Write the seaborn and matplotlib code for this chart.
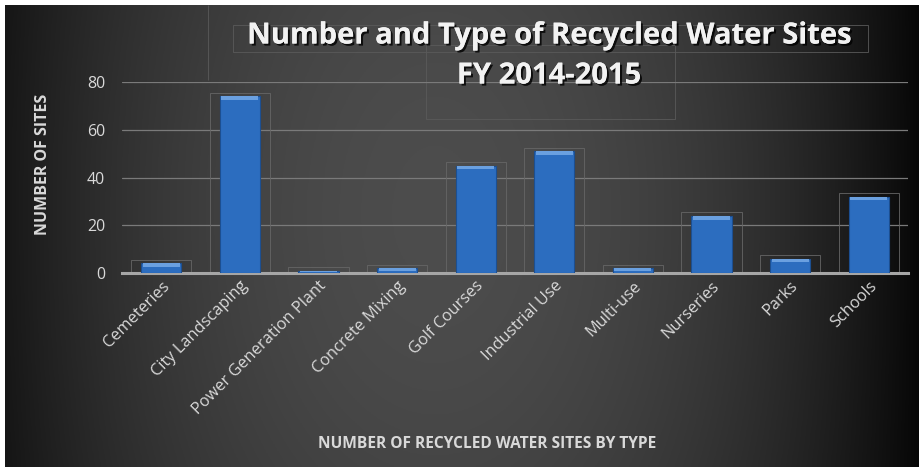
import numpy as np
import pandas as pd
import matplotlib
matplotlib.use('Agg')
import matplotlib.pyplot as plt
import matplotlib.patheffects as pe
from matplotlib.patches import Rectangle
import seaborn as sns

# данные
categories = ['Cemeteries', 'City Landscaping', 'Power Generation Plant', 'Concrete Mixing',
              'Golf Courses', 'Industrial Use', 'Multi-use', 'Nurseries', 'Parks', 'Schools']
sites = [4, 74, 1, 2, 45, 51, 2, 24, 6, 32]
y_ticks = [0, 20, 40, 60, 80]

df = pd.DataFrame({'type': categories, 'sites': sites})

sns.set_theme(style='dark')
plt.rcParams['font.family'] = ['Open Sans', 'DejaVu Sans']

fig = plt.figure(figsize=(9.2, 4.67), dpi=100)
fig.patch.set_facecolor('white')

# фон с градиентом
bg = fig.add_axes([5 / 920, 0, 915 / 920, 1 - 5 / 467])
bg.set_axis_off()
xx = np.linspace(0, 1, 400)
yy = np.linspace(0, 1, 200)
X, Y = np.meshgrid(xx, yy)
val = 0.30 * np.clip(1 - ((X - 0.47) / 0.55) ** 2, 0, 1) ** 0.9
val = val * (0.85 + 0.15 * np.clip(1 - ((Y - 0.45) / 0.7) ** 2, 0, 1))
bg.imshow(np.dstack([val, val, val]), aspect='auto', extent=[0, 1, 0, 1])
bg.set_xlim(0, 1)
bg.set_ylim(0, 1)

ax = fig.add_axes([122 / 920, 1 - 273 / 467, 786 / 920, 191 / 467])
ax.patch.set_alpha(0)
sns.barplot(data=df, x='type', y='sites', color='#2c6dbf', width=0.51,
            edgecolor='#1c4f91', linewidth=0.8, saturation=1, ax=ax, zorder=3)

# рамки и блики на столбцах
for p in ax.patches[:len(sites)]:
    x0, w, h = p.get_x(), p.get_width(), p.get_height()
    pad = w * 0.25
    ax.add_patch(Rectangle((x0 - pad, 0), w + 2 * pad, h + 1.5, fill=False,
                           edgecolor='#666666', linewidth=0.6, zorder=2))
    cap = min(1.6, h * 0.5)
    ax.add_patch(Rectangle((x0 + w * 0.04, h - cap), w * 0.92, cap, facecolor='#6aa0e0',
                           edgecolor='none', zorder=4))

ax.set_ylim(0, 80)
ax.set_yticks(y_ticks)
ax.set_xlim(-0.5, len(categories) - 0.5)
ax.grid(axis='y', color='#7a7a7a', linewidth=0.9, zorder=0)
ax.grid(axis='x', visible=False)
for s in ['top', 'right', 'left']:
    ax.spines[s].set_visible(False)
ax.spines['bottom'].set_color('#a6a6a6')
ax.spines['bottom'].set_linewidth(2.2)
ax.tick_params(axis='both', length=0, colors='#d9d9d9', labelsize=11.5)
ax.tick_params(axis='y', pad=12)
plt.setp(ax.get_xticklabels(), rotation=45, ha='right', rotation_mode='anchor', fontsize=11.8)
ax.set_xlabel('')
ax.set_ylabel('')

fig.text(43 / 920, 1 - 164 / 467, 'NUMBER OF SITES', color='#d9d9d9', rotation=90,
         fontsize=11.5, fontweight='bold', ha='center', va='center')
fig.text(487 / 920, 1 - 444 / 467, 'NUMBER OF RECYCLED WATER SITES BY TYPE', color='#d9d9d9',
         fontsize=11.2, fontweight='bold', ha='center', va='center')

# заголовок
shadow = [pe.withSimplePatchShadow(offset=(1.5, -1.5), shadow_rgbFace='black', alpha=0.8), pe.Normal()]
fig.text(549 / 920, 1 - 36 / 467, 'Number and Type of Recycled Water Sites',
         color='#f2f2f2', fontsize=21, fontweight='bold', ha='center', va='center', path_effects=shadow)
fig.text(549 / 920, 1 - 76 / 467, 'FY 2014-2015',
         color='#f2f2f2', fontsize=21, fontweight='bold', ha='center', va='center', path_effects=shadow)

# слабые рамки вокруг заголовка
for (x0, y0, x1, y1) in [(233, 25, 868, 52), (426, 45, 675, 119), (208, 5, 208, 80)]:
    bg.add_patch(Rectangle(((x0 - 5) / 915, 1 - (y1 - 5) / 462), (x1 - x0) / 915, (y1 - y0) / 462,
                           fill=False, edgecolor='#5a5a5a', linewidth=0.6))

fig.savefig('out.png', dpi=100, facecolor=fig.get_facecolor())
